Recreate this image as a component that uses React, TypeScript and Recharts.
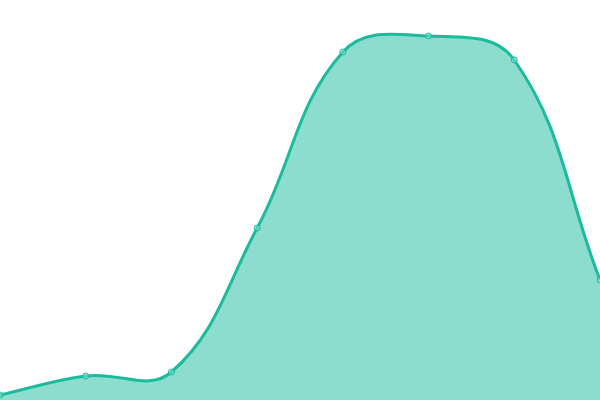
import React from 'react';
import { AreaChart, Area, XAxis, YAxis } from 'recharts';

const categories = ['A', 'B', 'C', 'D', 'E', 'F', 'G', 'H'];
const values = [1.25, 6, 7, 43, 87, 91, 85, 30];

const data = categories.map((name, i) => ({ name, value: values[i] }));

// spline with distance-weighted control points (tension 0.4)
class SplineCurve {
  _context: any;
  _t: number;
  _line = NaN;
  _pts: number[][] = [];

  constructor(context: any, tension: number) {
    this._context = context;
    this._t = tension;
  }
  areaStart() { this._line = 0; }
  areaEnd() { this._line = NaN; }
  lineStart() { this._pts = []; }
  lineEnd() {
    const p = this._pts;
    const n = p.length;
    const ctx = this._context;
    if (n) {
      if (this._line) ctx.lineTo(p[0][0], p[0][1]);
      else ctx.moveTo(p[0][0], p[0][1]);
      const cpPrev: number[][] = [];
      const cpNext: number[][] = [];
      for (let i = 0; i < n; i++) {
        const cur = p[i];
        const prev = i > 0 ? p[i - 1] : cur;
        const next = i < n - 1 ? p[i + 1] : cur;
        const d01 = Math.hypot(cur[0] - prev[0], cur[1] - prev[1]);
        const d12 = Math.hypot(next[0] - cur[0], next[1] - cur[1]);
        const sum = d01 + d12;
        const s01 = sum ? d01 / sum : 0;
        const s12 = sum ? d12 / sum : 0;
        const fa = this._t * s01;
        const fb = this._t * s12;
        cpPrev.push([cur[0] - fa * (next[0] - prev[0]), cur[1] - fa * (next[1] - prev[1])]);
        cpNext.push([cur[0] + fb * (next[0] - prev[0]), cur[1] + fb * (next[1] - prev[1])]);
      }
      for (let i = 1; i < n; i++) {
        ctx.bezierCurveTo(cpNext[i - 1][0], cpNext[i - 1][1], cpPrev[i][0], cpPrev[i][1], p[i][0], p[i][1]);
      }
    }
    if (this._line || (this._line !== 0 && n === 1)) ctx.closePath();
    this._line = 1 - this._line;
  }
  point(x: number, y: number) {
    this._pts.push([+x, +y]);
  }
}

const spline = (context: any) => new SplineCurve(context, 0.4);

const App: React.FC = () => {
  return (
    <div style={{ position: 'fixed', top: 0, left: 0, width: 600, height: 400 }}>
      <AreaChart width={600} height={400} data={data} margin={{ top: 0, right: 0, left: 0, bottom: 0 }}>
        <XAxis dataKey="name" hide />
        <YAxis domain={[0, 100]} hide />
        <Area
          type={spline as any}
          dataKey="value"
          stroke="#1abc9c"
          strokeWidth={3}
          fill="#1abc9c"
          fillOpacity={0.5}
          dot={{ r: 3, fill: '#8ae0d0', stroke: '#1abc9c', strokeWidth: 1 }}
          activeDot={false}
          isAnimationActive={false}
        />
      </AreaChart>
    </div>
  );
};

export default App;
